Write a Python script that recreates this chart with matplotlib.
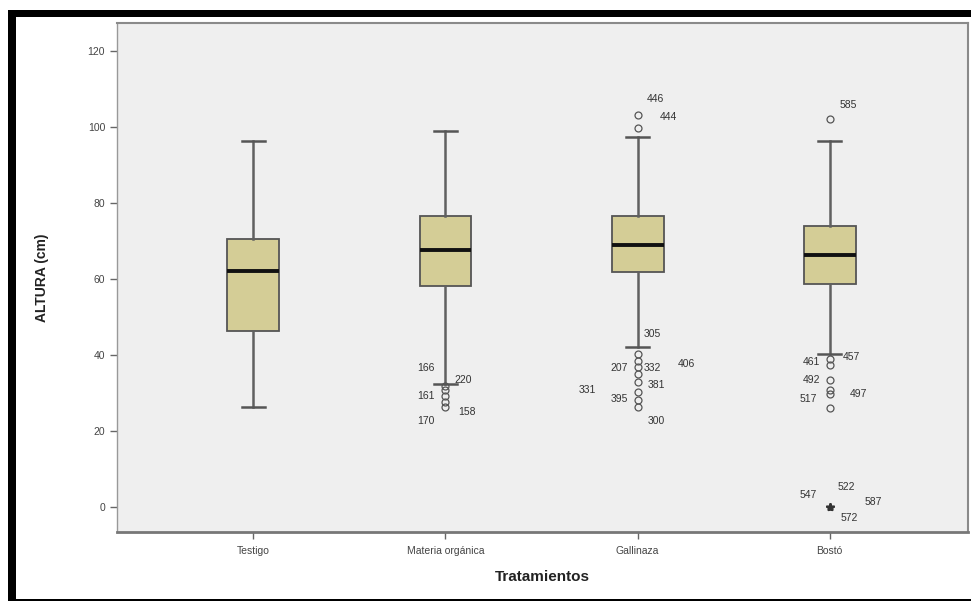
import matplotlib
matplotlib.use("Agg")
import matplotlib.pyplot as plt
from matplotlib.patches import Rectangle

plt.rcParams['font.family'] = ['Liberation Sans', 'DejaVu Sans']

# Resumen por tratamiento (cm)
tratamientos = ["Testigo", "Materia orgánica", "Gallinaza", "Bostó"]
medianas = [62.1, 67.6, 68.9, 66.3]
q1 = [46.3, 58.2, 61.8, 58.7]
q3 = [70.5, 76.6, 76.6, 73.9]
bigote_inf = [26.3, 32.4, 42.1, 40.3]
bigote_sup = [96.3, 98.9, 97.4, 96.3]

# valores atipicos (circulos) y su numero de caso
atipicos = [
    [],
    [31.8, 30.8, 29.2, 27.6, 26.3],
    [103.2, 99.7, 40.3, 38.4, 36.8, 35.0, 32.9, 30.3, 28.2, 26.3],
    [102.1, 38.9, 37.4, 33.4, 30.8, 29.7, 26.1],
]
casos_atipicos = [
    [],
    ["166", "220", "161", "158", "170"],
    ["446", "444", "305", "406", "207", "332", "381", "331", "395", "300"],
    ["585", "457", "461", "492", "497", "517", ""],
]
# valores extremos (asteriscos)
extremos = [[], [], [], [0.0, 0.0, 0.0, 0.0]]
casos_extremos = [[], [], [], ["547", "522", "587", "572"]]

# desplazamiento de cada etiqueta en pixeles
despl_atipicos = [
    [],
    [(-20, 18), (18, 10), (-20, 0), (21, -10), (-20, -14)],
    [(18, 16), (31, 11), (15, 20), (49, -3), (-18, -1), (15, 6),
     (19, -3), (-50, 2), (-18, 1), (19, -14)],
    [(19, 14), (22, 2), (-18, 3), (-18, 0), (29, -4), (-21, -5), (0, 0)],
]
despl_extremos = [[], [], [], [(-21, 12), (17, 20), (44, 5), (20, -11)]]

W, H = 971, 602
fig = plt.figure(figsize=(W / 100, H / 100), dpi=100)
ax = fig.add_axes([117 / W, 1 - 532 / H, (968 - 117) / W, (532 - 23) / H])
ax.set_facecolor("#efefef")

stats = []
for i, nombre in enumerate(tratamientos):
    stats.append(dict(label=nombre, med=medianas[i], q1=q1[i], q3=q3[i],
                      whislo=bigote_inf[i], whishi=bigote_sup[i],
                      fliers=atipicos[i]))

pos = list(range(1, len(tratamientos) + 1))
ax.bxp(stats, positions=pos, widths=0.27, capwidths=0.12, patch_artist=True,
       boxprops=dict(facecolor="#d4cd96", edgecolor="#555555", linewidth=1.3),
       medianprops=dict(color="#111111", linewidth=2.8),
       whiskerprops=dict(color="#606060", linewidth=1.8),
       capprops=dict(color="#555555", linewidth=1.8),
       flierprops=dict(marker="o", markersize=5, markerfacecolor="none",
                       markeredgecolor="#555555", markeredgewidth=0.9))

for i, p in enumerate(pos):
    if extremos[i]:
        ax.plot([p] * len(extremos[i]), extremos[i], linestyle="none",
                marker="*", markersize=6, color="#333333")
    for val, caso, d in zip(atipicos[i], casos_atipicos[i], despl_atipicos[i]):
        if caso:
            ax.annotate(caso, (p, val), xytext=d, textcoords="offset pixels",
                        ha="center", va="center", fontsize=7.5, color="#333333")
    for val, caso, d in zip(extremos[i], casos_extremos[i], despl_extremos[i]):
        ax.annotate(caso, (p, val), xytext=d, textcoords="offset pixels",
                    ha="center", va="center", fontsize=7.5, color="#333333")

ax.set_xlim(0.29, 4.72)
ax.set_ylim(-6.6, 127.4)
ax.set_yticks([0, 20, 40, 60, 80, 100, 120])
ax.set_xticks(pos)
ax.set_xticklabels(tratamientos)
ax.tick_params(axis="both", direction="out", length=5, width=1,
               color="#666666", labelsize=7.5, labelcolor="#444444")
ax.tick_params(axis="x", pad=5)

for lado in ["top", "right"]:
    ax.spines[lado].set_color("#8a8a8a")
    ax.spines[lado].set_linewidth(1.5)
ax.spines["left"].set_color("#999999")
ax.spines["left"].set_linewidth(1.0)
ax.spines["bottom"].set_color("#777777")
ax.spines["bottom"].set_linewidth(2.0)

ax.set_xlabel("Tratamientos", fontsize=11, fontweight="bold", color="#222222",
              labelpad=10)
ax.set_ylabel("ALTURA (cm)", fontsize=10, fontweight="bold", color="#222222",
              labelpad=28)


# marco negro alrededor de la figura
def banda(x0, y0, x1, y1):
    fig.add_artist(Rectangle((x0 / W, 1 - y1 / H), (x1 - x0) / W, (y1 - y0) / H,
                             transform=fig.transFigure, facecolor="black",
                             edgecolor="none", zorder=10))


banda(8, 10, W, 17)
banda(8, 10, 16, 601)
banda(8, 599, W, 601)

fig.savefig("out.png", dpi=100, facecolor="white")
